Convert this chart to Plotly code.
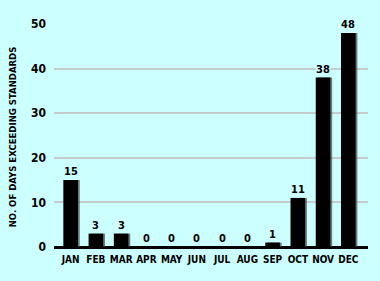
import plotly.graph_objects as go

months = ["JAN", "FEB", "MAR", "APR", "MAY", "JUN", "JUL", "AUG", "SEP", "OCT", "NOV", "DEC"]
days_exceeding = [15, 3, 3, 0, 0, 0, 0, 0, 1, 11, 38, 48]
y_ticks = [0, 10, 20, 30, 40, 50]

BG = "#ccffff"
FONT = "DejaVu Sans Condensed"
BAR_W = 0.58

fig = go.Figure()

# soft drop shadow behind each bar
fig.add_trace(go.Bar(
    x=months, y=days_exceeding, width=BAR_W, offset=-BAR_W / 2 + 0.07,
    marker=dict(color="#3a4a4a", line=dict(width=0)), opacity=0.7,
    hoverinfo="skip", showlegend=False,
))
fig.add_trace(go.Bar(
    x=months, y=days_exceeding, width=BAR_W, offset=-BAR_W / 2,
    marker=dict(color="#000000", line=dict(width=0)),
    showlegend=False,
))

# value labels above the bars, backed so gridlines break around them
for m, v in zip(months, days_exceeding):
    fig.add_annotation(
        x=m, y=v, text=f"<b>{v}</b>", showarrow=False, yanchor="bottom",
        yshift=1, bgcolor=BG, borderpad=0,
        font=dict(family=FONT, size=11, color="#000000"),
    )

fig.update_layout(
    width=380, height=281,
    margin=dict(l=48, r=12, t=24, b=31),
    paper_bgcolor=BG, plot_bgcolor=BG,
    barmode="overlay",
    font=dict(family=FONT, size=11, color="#000000"),
    xaxis=dict(
        range=[-0.66, 11.78], showgrid=False, showline=False, ticks="",
        tickangle=0,
        tickfont=dict(family=FONT, size=10, weight="bold"),
        ticklabelstandoff=2,
    ),
    yaxis=dict(
        range=[-0.67, 50], tickvals=y_ticks, showgrid=True,
        gridcolor="#c4cccc", gridwidth=2,
        zeroline=True, zerolinecolor="#000000", zerolinewidth=3,
        showline=False, ticks="",
        tickfont=dict(family=FONT, size=12, weight="bold"),
        ticklabelstandoff=7,
        title=dict(text="<b>NO. OF DAYS EXCEEDING STANDARDS</b>",
                   font=dict(family=FONT, size=9.5), standoff=12),
    ),
)

fig.write_html("out.html")
